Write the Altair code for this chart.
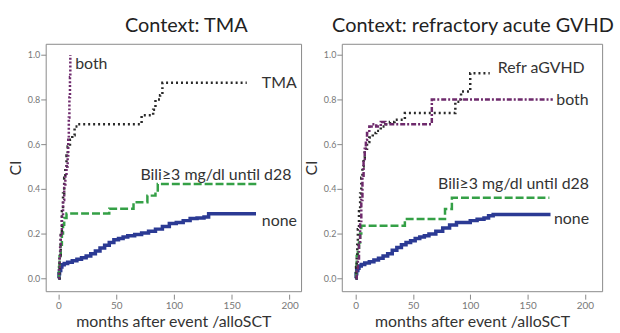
import altair as alt
import pandas as pd

FONT = "Lato"

# ---------------- Left panel: Context TMA ----------------
none_L_x = [0, 0.5, 1, 2, 3, 5, 8, 12, 16, 20, 24, 28, 32, 36, 40, 44, 48, 52, 56, 60, 66, 72, 78, 84, 90, 96, 102, 108, 114, 120, 126, 130, 171]
none_L_y = [0, 0.02, 0.035, 0.05, 0.06, 0.066, 0.072, 0.078, 0.085, 0.092, 0.1, 0.11, 0.122, 0.135, 0.148, 0.16, 0.172, 0.178, 0.185, 0.19, 0.196, 0.203, 0.21, 0.22, 0.232, 0.245, 0.25, 0.258, 0.268, 0.27, 0.274, 0.289, 0.289]

bili_L_x = [0, 0.5, 1, 2, 3, 4, 5, 7, 44, 65, 77, 84, 86, 172]
bili_L_y = [0, 0.05, 0.1, 0.15, 0.2, 0.24, 0.27, 0.29, 0.311, 0.34, 0.37, 0.385, 0.422, 0.422]

tma_L_x = [0, 1, 2, 3, 4, 5, 6, 7, 8, 10, 12, 14, 17, 68, 72, 82, 84, 88, 90, 163]
tma_L_y = [0, 0.1, 0.2, 0.3, 0.38, 0.45, 0.5, 0.55, 0.59, 0.62, 0.64, 0.68, 0.69, 0.69, 0.73, 0.755, 0.8, 0.82, 0.875, 0.875]

both_L_x = [0, 0.5, 1, 1.5, 2, 3, 4, 5, 6, 7, 8, 8.5, 9, 9.5, 10, 10.3]
both_L_y = [0, 0.05, 0.1, 0.15, 0.2, 0.28, 0.35, 0.42, 0.46, 0.5, 0.55, 0.62, 0.72, 0.81, 0.9, 1.0]

labels_L_text = ["both", "TMA", "Bili≥3 mg/dl until d28", "none"]
labels_L_x = [14.5, 176, 71, 176]
labels_L_y = [0.96, 0.874, 0.46, 0.255]

# ---------------- Right panel: Context refractory acute GVHD ----------------
none_R_x = [0, 0.5, 1, 2, 3, 5, 8, 12, 16, 20, 24, 28, 32, 36, 40, 44, 48, 52, 56, 60, 64, 70, 76, 82, 88, 94, 100, 106, 112, 116, 120, 170]
none_R_y = [0, 0.02, 0.035, 0.045, 0.055, 0.062, 0.068, 0.074, 0.082, 0.09, 0.1, 0.11, 0.125, 0.138, 0.15, 0.16, 0.168, 0.178, 0.185, 0.19, 0.198, 0.21, 0.225, 0.238, 0.25, 0.25, 0.258, 0.264, 0.27, 0.28, 0.285, 0.285]

bili_R_x = [0, 0.5, 1, 2, 3, 4, 5, 43, 78, 84, 169]
bili_R_y = [0, 0.05, 0.1, 0.13, 0.16, 0.2, 0.235, 0.265, 0.31, 0.36, 0.36]

refr_R_x = [0, 0.5, 1, 1.5, 2, 3, 4, 5, 6, 7, 8, 10, 12, 15, 18, 22, 26, 30, 34, 43, 87, 92, 100, 117]
refr_R_y = [0, 0.05, 0.1, 0.15, 0.22, 0.3, 0.38, 0.45, 0.5, 0.54, 0.58, 0.61, 0.63, 0.65, 0.66, 0.68, 0.69, 0.7, 0.71, 0.74, 0.79, 0.836, 0.918, 0.918]

both_R_x = [0, 1, 2, 3, 4, 5, 6, 7, 8, 9, 10, 12, 14, 18, 22, 26, 30, 66.5, 172]
both_R_y = [0, 0.03, 0.08, 0.15, 0.25, 0.35, 0.45, 0.52, 0.58, 0.62, 0.65, 0.68, 0.69, 0.68, 0.7, 0.69, 0.69, 0.8, 0.8]

labels_R_text = ["Refr aGVHD", "both", "Bili≥3 mg/dl until d28", "none"]
labels_R_x = [124, 175, 72, 173]
labels_R_y = [0.94, 0.8, 0.42, 0.265]

x_ticks = [0, 50, 100, 150, 200]
y_ticks = [0.0, 0.2, 0.4, 0.6, 0.8, 1.0]

C_NONE = "#2b3a94"
C_BILI = "#34a046"
C_BLACK = "#2a2a2a"
C_PURPLE = "#6e2a6c"


def panel(series, labels, xdomain, width, title, title_dx):
    xs = alt.Scale(domain=xdomain, nice=False, zero=False)
    ys = alt.Scale(domain=[-0.058, 1.05], nice=False, zero=False)
    xenc = alt.X("x:Q", scale=xs, axis=alt.Axis(values=x_ticks, title="months after event /alloSCT"))
    yenc = alt.Y("y:Q", scale=ys, axis=alt.Axis(values=y_ticks, format=".1f", title="CI"))
    layers = []
    for xv, yv, color, dash, sw in series:
        df = pd.DataFrame({"x": xv, "y": yv})
        mk = dict(interpolate="step-after", color=color, strokeWidth=sw)
        if dash:
            mk["strokeDash"] = dash
        layers.append(alt.Chart(df).mark_line(**mk).encode(x=xenc, y=yenc))
    txt, lx, ly = labels
    ldf = pd.DataFrame({"t": txt, "x": lx, "y": ly})
    layers.append(
        alt.Chart(ldf).mark_text(align="left", baseline="middle", fontSize=16, font=FONT, color="#333333")
        .encode(x=xenc, y=yenc, text="t:N")
    )
    return alt.layer(*layers).properties(
        width=width, height=249,
        title=alt.TitleParams(text=title, anchor="middle", frame="group", dx=title_dx,
                              fontSize=20, font=FONT, fontWeight="normal", color="#222222", offset=8),
    )


left = panel(
    [
        (none_L_x, none_L_y, C_NONE, None, 3.5),
        (bili_L_x, bili_L_y, C_BILI, [8, 3], 2.5),
        (tma_L_x, tma_L_y, C_BLACK, [2, 3], 2.5),
        (both_L_x, both_L_y, C_PURPLE, [2, 2], 2.5),
    ],
    (labels_L_text, labels_L_x, labels_L_y),
    [-11, 210], 257, "Context: TMA", 13,
)

right = panel(
    [
        (none_R_x, none_R_y, C_NONE, None, 3.5),
        (bili_R_x, bili_R_y, C_BILI, [8, 3], 2.5),
        (refr_R_x, refr_R_y, C_BLACK, [2, 3], 2.5),
        (both_R_x, both_R_y, C_PURPLE, [5, 2, 2, 2], 2.5),
    ],
    (labels_R_text, labels_R_x, labels_R_y),
    [-12, 215], 262, "Context: refractory acute GVHD", 1,
)

chart = (
    alt.hconcat(left, right, spacing=41, bounds="flush")
    .properties(padding={"left": 6, "top": 14, "right": 5, "bottom": 0}, background="white")
    .configure_view(stroke="#8a8a8a", strokeWidth=1)
    .configure_axis(
        grid=False, domain=False, tickColor="#888888", tickSize=5,
        labelFont=FONT, labelColor="#777777", labelFontSize=9,
        titleFont=FONT, titleColor="#333333", titleFontSize=16, titleFontWeight="normal",
    )
    .configure_axisX(offset=3, labelPadding=1, titlePadding=4, labelFontSize=10)
    .configure_axisY(labelPadding=1, titlePadding=4)
)

chart.save("out.html", embed_options={"renderer": "svg", "actions": False})
